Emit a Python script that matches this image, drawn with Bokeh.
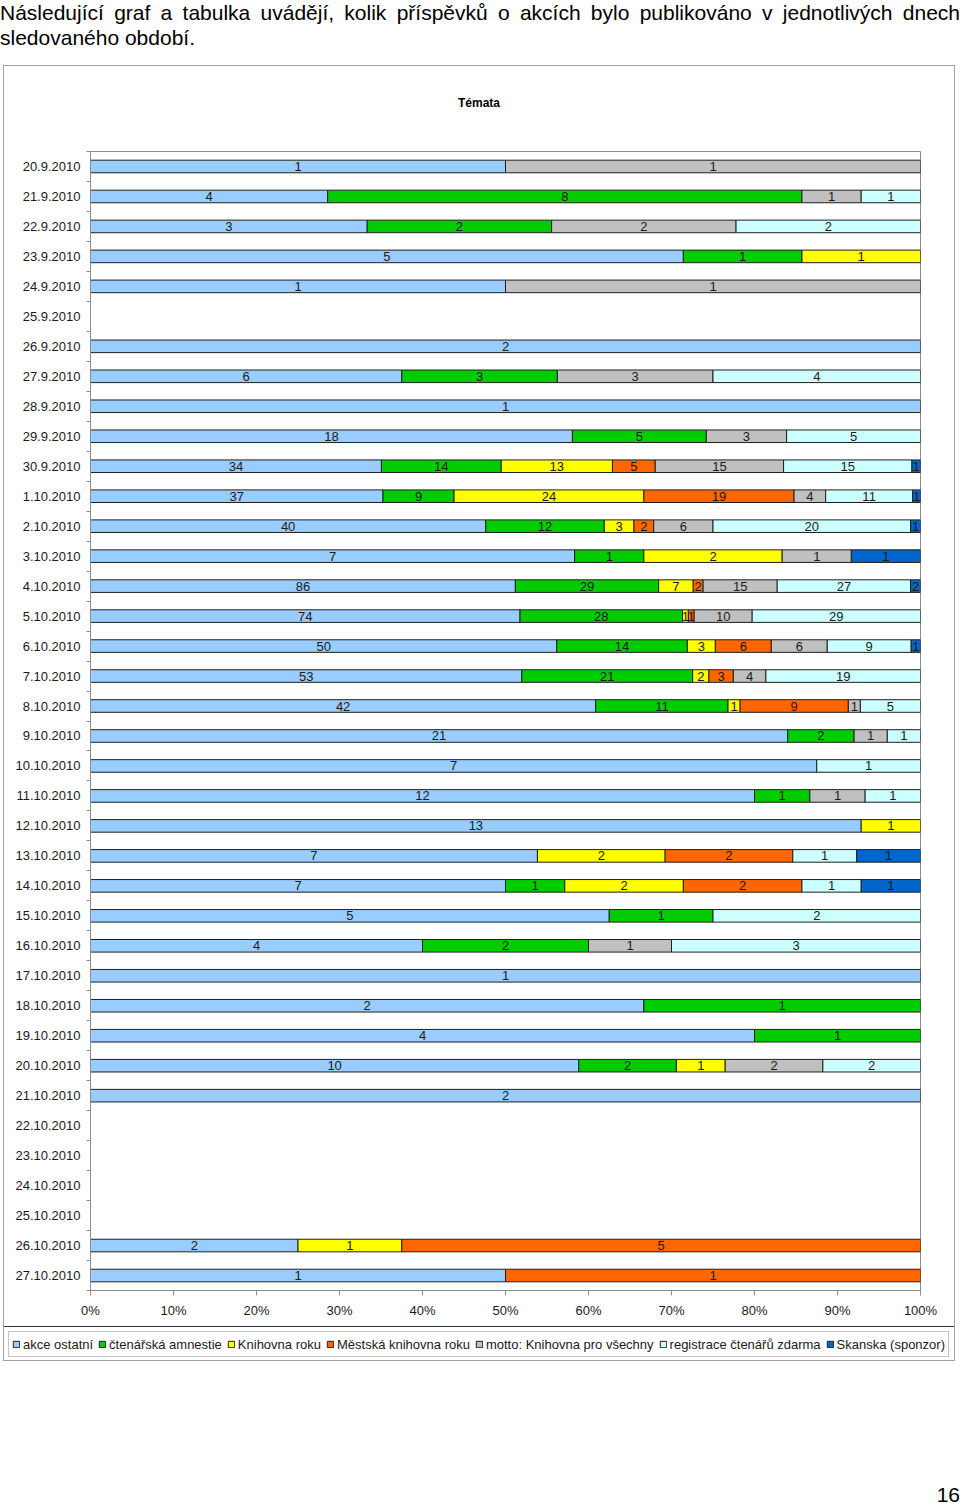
from bokeh.plotting import figure
from bokeh.layouts import column, row
from bokeh.models import (ColumnDataSource, Range1d, FixedTicker, NumeralTickFormatter,
                          Legend, LegendItem, Div)
from bokeh.core.properties import value
from bokeh.embed import file_html
from bokeh.resources import INLINE

dates = ["20.9.2010", "21.9.2010", "22.9.2010", "23.9.2010", "24.9.2010", "25.9.2010",
         "26.9.2010", "27.9.2010", "28.9.2010", "29.9.2010", "30.9.2010",
         "1.10.2010", "2.10.2010", "3.10.2010", "4.10.2010", "5.10.2010", "6.10.2010",
         "7.10.2010", "8.10.2010", "9.10.2010", "10.10.2010", "11.10.2010", "12.10.2010",
         "13.10.2010", "14.10.2010", "15.10.2010", "16.10.2010", "17.10.2010", "18.10.2010",
         "19.10.2010", "20.10.2010", "21.10.2010", "22.10.2010", "23.10.2010", "24.10.2010",
         "25.10.2010", "26.10.2010", "27.10.2010"]

series_names = ["akce ostatní", "čtenářská amnestie", "Knihovna roku", "Městská knihovna roku",
                "motto: Knihovna pro všechny", "registrace čtenářů zdarma", "Skanska (sponzor)"]
series_colors = ["#99CCFF", "#00CC00", "#FFFF00", "#FF6600", "#C0C0C0", "#CCFFFF", "#0066CC"]

akce_ostatni = [1, 4, 3, 5, 1, 0, 2, 6, 1, 18, 34, 37, 40, 7, 86, 74, 50, 53, 42, 21, 7, 12, 13,
                7, 7, 5, 4, 1, 2, 4, 10, 2, 0, 0, 0, 0, 2, 1]
ctenarska_amnestie = [0, 8, 2, 1, 0, 0, 0, 3, 0, 5, 14, 9, 12, 1, 29, 28, 14, 21, 11, 2, 0, 1, 0,
                      0, 1, 1, 2, 0, 1, 1, 2, 0, 0, 0, 0, 0, 0, 0]
knihovna_roku = [0, 0, 0, 1, 0, 0, 0, 0, 0, 0, 13, 24, 3, 2, 7, 1, 3, 2, 1, 0, 0, 0, 1,
                 2, 2, 0, 0, 0, 0, 0, 1, 0, 0, 0, 0, 0, 1, 0]
mestska_knihovna_roku = [0, 0, 0, 0, 0, 0, 0, 0, 0, 0, 5, 19, 2, 0, 2, 1, 6, 3, 9, 0, 0, 0, 0,
                         2, 2, 0, 0, 0, 0, 0, 0, 0, 0, 0, 0, 0, 5, 1]
motto = [1, 1, 2, 0, 1, 0, 0, 3, 0, 3, 15, 4, 6, 1, 15, 10, 6, 4, 1, 1, 0, 1, 0,
         0, 0, 0, 1, 0, 0, 0, 2, 0, 0, 0, 0, 0, 0, 0]
registrace = [0, 1, 2, 0, 0, 0, 0, 4, 0, 5, 15, 11, 20, 0, 27, 29, 9, 19, 5, 1, 1, 1, 0,
              1, 1, 2, 3, 0, 0, 0, 2, 0, 0, 0, 0, 0, 0, 0]
skanska = [0, 0, 0, 0, 0, 0, 0, 0, 0, 0, 1, 1, 1, 1, 2, 0, 1, 0, 0, 0, 0, 0, 0,
           1, 1, 0, 0, 0, 0, 0, 0, 0, 0, 0, 0, 0, 0, 0]

x_ticks = [0, 0.1, 0.2, 0.3, 0.4, 0.5, 0.6, 0.7, 0.8, 0.9, 1.0]

heading_1 = "Následující graf a tabulka uvádějí, kolik příspěvků o akcích bylo publikováno v jednotlivých dnech"
heading_2 = "sledovaného období."
chart_title = "Témata"
page_number = "16"

all_series = [akce_ostatni, ctenarska_amnestie, knihovna_roku, mestska_knihovna_roku,
              motto, registrace, skanska]

FONT = "Liberation Sans"
n = len(dates)
BAR_LINE = "#1f1f1f"
AXIS_GREY = "#8c8c8c"
TXT = "#1a1a1a"

# ---------- heading ----------
txt_style = "font-family:'Liberation Sans',Arial,sans-serif;font-size:21px;line-height:25px;color:#000;"
heading_div = Div(
    text=(f'<div style="{txt_style}width:960px;text-align:justify;text-align-last:justify;white-space:nowrap;">{heading_1}</div>'
          f'<div style="{txt_style}width:960px;text-align:left;">{heading_2}</div>'),
    width=960, height=66, margin=0)

# ---------- chart title ----------
title_div = Div(
    text=(f'<div style="font-family:\'Liberation Sans\',Arial,sans-serif;font-size:12px;font-weight:bold;'
          f'line-height:14px;padding-top:30px;text-align:center;width:950px;color:#000;">{chart_title}</div>'),
    width=950, height=83, margin=0)

# ---------- chart ----------
p = figure(width=950, height=1177, output_backend="svg", toolbar_location=None,
           x_range=Range1d(0, 1), y_range=Range1d(n - 0.5, -0.5),
           min_border_left=86, min_border_right=34, min_border_top=2, min_border_bottom=36,
           margin=0)
try:
    p.frame_align = False
except Exception:
    pass
p.xgrid.visible = False
p.ygrid.visible = False
p.outline_line_color = AXIS_GREY
p.background_fill_color = "white"
p.border_fill_color = "white"

totals = [sum(s[i] for s in all_series) for i in range(n)]
cum = [0.0] * n
lab_x, lab_y, lab_t = [], [], []
for vals, col in zip(all_series, series_colors):
    ys, lefts, rights = [], [], []
    for i in range(n):
        if vals[i] > 0 and totals[i] > 0:
            l = cum[i] / totals[i]
            r = (cum[i] + vals[i]) / totals[i]
            ys.append(i); lefts.append(l); rights.append(r)
            lab_x.append((l + r) / 2); lab_y.append(i); lab_t.append(str(vals[i]))
            cum[i] += vals[i]
    src = ColumnDataSource(dict(y=ys, left=lefts, right=rights))
    p.hbar(y="y", left="left", right="right", height=0.42, source=src,
           fill_color=col, line_color=BAR_LINE, line_width=1)

lab_src = ColumnDataSource(dict(x=lab_x, y=lab_y, t=lab_t))
p.text(x="x", y="y", text="t", source=lab_src, text_align="center", text_baseline="middle",
       text_font=value(FONT), text_font_size="13px", text_color=TXT)

p.xaxis.ticker = FixedTicker(ticks=x_ticks)
p.xaxis.formatter = NumeralTickFormatter(format="0%")
p.xaxis.axis_line_color = AXIS_GREY
p.xaxis.major_tick_line_color = AXIS_GREY
p.xaxis.major_tick_out = 5
p.xaxis.major_tick_in = 0
p.xaxis.minor_tick_line_color = None
p.xaxis.major_label_standoff = 7
p.xaxis.major_label_text_font = FONT
p.xaxis.major_label_text_font_size = "13px"
p.xaxis.major_label_text_color = TXT

p.yaxis.ticker = FixedTicker(ticks=list(range(n)), minor_ticks=[i - 0.5 for i in range(n + 1)])
p.yaxis.major_label_overrides = {i: d for i, d in enumerate(dates)}
p.yaxis.axis_line_color = AXIS_GREY
p.yaxis.major_tick_line_color = None
p.yaxis.major_tick_out = 0
p.yaxis.major_tick_in = 0
p.yaxis.minor_tick_line_color = AXIS_GREY
p.yaxis.minor_tick_out = 4
p.yaxis.minor_tick_in = 0
p.yaxis.major_label_standoff = 6
p.yaxis.major_label_text_font = FONT
p.yaxis.major_label_text_font_size = "13px"
p.yaxis.major_label_text_color = TXT

# ---------- legend strip ----------
pl = figure(width=950, height=34, output_backend="svg", toolbar_location=None,
            x_range=Range1d(0, 1), y_range=Range1d(0, 1),
            x_axis_location=None, y_axis_location=None, min_border=0,
            min_border_left=0, min_border_right=0, min_border_top=0, min_border_bottom=0,
            margin=0)
try:
    pl.frame_align = False
except Exception:
    pass
pl.xgrid.visible = False
pl.ygrid.visible = False
pl.outline_line_color = None
pl.border_fill_color = "white"
leg_renderers = []
for col in series_colors:
    # one swatch per series, kept outside the visible range; only its legend glyph shows
    leg_renderers.append(pl.hbar(y=[5], left=[0], right=[1], height=0.5,
                                 fill_color=col, line_color=BAR_LINE, line_width=1))
legend = Legend(items=[LegendItem(label=nm, renderers=[r]) for nm, r in zip(series_names, leg_renderers)],
                orientation="horizontal", location=(4, 3),
                glyph_width=8, glyph_height=8, label_standoff=3, spacing=5, padding=3,
                label_height=18, label_text_font=FONT, label_text_font_size="13px",
                label_text_color=TXT, border_line_color=AXIS_GREY, border_line_width=1.5,
                background_fill_alpha=1, margin=0)
pl.add_layout(legend, "center")

box = column(title_div, p, row(pl, margin=0), spacing=0, margin=(0, 6, 0, 4),
             styles={"outline": "1px solid #a3a3a3"})

# ---------- page number ----------
page_div = Div(
    text=f'<div style="{txt_style}width:960px;margin-top:125px;text-align:right;line-height:20px;">{page_number}</div>',
    width=960, height=145, margin=0)

layout = column(heading_div, box, page_div, spacing=0)

open("out.html", "w").write(file_html(layout, INLINE))
